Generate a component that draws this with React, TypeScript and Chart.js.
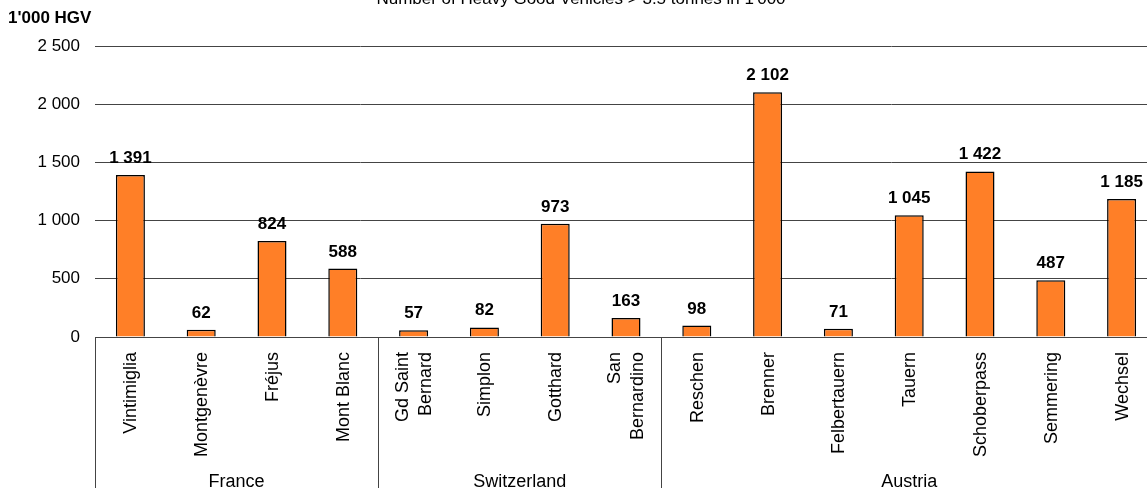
import React, { useEffect, useRef } from 'react';
import { Chart, registerables } from 'chart.js';

Chart.register(...registerables);

const chartTitle = "Number of Heavy Good Vehicles > 3.5 tonnes in 1'000";
const axisTitle = "1'000 HGV";
const passLabels: string[][] = [
  ['Vintimiglia'], ['Montgenèvre'], ['Fréjus'], ['Mont Blanc'],
  ['Gd Saint', 'Bernard'], ['Simplon'], ['Gotthard'], ['San', 'Bernardino'],
  ['Reschen'], ['Brenner'], ['Felbertauern'], ['Tauern'], ['Schoberpass'], ['Semmering'], ['Wechsel'],
];
const hgvValues = [1391, 62, 824, 588, 57, 82, 973, 163, 98, 2102, 71, 1045, 1422, 487, 1185];
const groupNames = ['France', 'Switzerland', 'Austria'];
const groupSizes = [4, 4, 7];
const yTicks = [0, 500, 1000, 1500, 2000, 2500];

const FONT = '"Liberation Sans", Arial, sans-serif';
const fmt = (n: number) => String(n).replace(/\B(?=(\d{3})+(?!\d))/g, ' ');

const decorPlugin = {
  id: 'decor',
  afterDraw(chart: any) {
    const { ctx, chartArea, scales } = chart;
    const xs = scales.x;
    ctx.save();
    // title
    ctx.fillStyle = '#000';
    ctx.font = `17px ${FONT}`;
    ctx.textAlign = 'center';
    ctx.textBaseline = 'alphabetic';
    ctx.fillText(chartTitle, chart.width / 2, 15.5);
    // axis title
    ctx.font = `bold 17px ${FONT}`;
    ctx.textAlign = 'left';
    ctx.fillText(axisTitle, 8, 35);
    // data labels
    const meta = chart.getDatasetMeta(0);
    ctx.textAlign = 'center';
    meta.data.forEach((bar: any, i: number) => {
      ctx.fillText(fmt(hgvValues[i]), bar.x, bar.y - 12);
    });
    // category labels
    ctx.font = `18px ${FONT}`;
    passLabels.forEach((lines, i) => {
      const x = xs.getPixelForValue(i);
      ctx.save();
      ctx.translate(x, chartArea.bottom + 15);
      ctx.rotate(-Math.PI / 2);
      ctx.textAlign = 'right';
      ctx.textBaseline = 'middle';
      lines.forEach((ln, j) => {
        ctx.fillText(ln, 0, (j - (lines.length - 1) / 2) * 23 + 1);
      });
      ctx.restore();
    });
    // group separators and labels
    const half = (xs.getPixelForValue(1) - xs.getPixelForValue(0)) / 2;
    ctx.strokeStyle = '#444';
    ctx.lineWidth = 1;
    let start = 0;
    const bounds: number[] = [chartArea.left];
    groupSizes.forEach((sz, g) => {
      const end = start + sz - 1;
      const left = xs.getPixelForValue(start) - half;
      const right = xs.getPixelForValue(end) + half;
      bounds.push(right);
      ctx.textAlign = 'center';
      ctx.textBaseline = 'alphabetic';
      ctx.fillText(groupNames[g], (left + right) / 2, 499);
      start += sz;
    });
    bounds.forEach((b) => {
      const px = Math.round(b) + 0.5;
      ctx.beginPath();
      ctx.moveTo(px, chartArea.bottom);
      ctx.lineTo(px, chart.height);
      ctx.stroke();
    });
    ctx.restore();
  },
};

export default function App() {
  const ref = useRef<HTMLCanvasElement | null>(null);
  useEffect(() => {
    document.body.style.margin = '0';
    document.body.style.overflow = 'hidden';
    const canvas = ref.current!;
    const chart = new Chart(canvas, {
      type: 'bar',
      data: {
        labels: passLabels.map((l) => l.join(' ')),
        datasets: [
          {
            data: hgvValues,
            backgroundColor: '#FF7F27',
            borderColor: '#000',
            borderWidth: 1.5,
            barPercentage: 0.41,
            categoryPercentage: 1,
          },
        ],
      },
      options: {
        animation: false,
        responsive: false,
        devicePixelRatio: 1,
        layout: { padding: { top: 58, left: 0, right: 5, bottom: 0 } },
        plugins: { legend: { display: false }, title: { display: false }, tooltip: { enabled: false } },
        scales: {
          x: {
            grid: { display: false },
            border: { display: true, color: '#444', width: 1 },
            ticks: { display: false },
            afterFit: (s: any) => { s.height = 163; },
          },
          y: {
            min: 0,
            max: 2500,
            afterBuildTicks: (s: any) => { s.ticks = yTicks.map((v) => ({ value: v })); },
            grid: { color: '#444', drawTicks: false, lineWidth: 1 },
            border: { display: false },
            ticks: {
              padding: 15,
              color: '#000',
              font: { family: FONT, size: 17 },
              callback: (v: any) => fmt(Number(v)),
            },
            afterFit: (s: any) => { s.width = 95; },
          },
        },
      },
      plugins: [decorPlugin],
    });
    return () => chart.destroy();
  }, []);
  return (
    <div style={{ position: 'fixed', left: 0, top: -12, width: 1162, height: 512 }}>
      <canvas ref={ref} width={1162} height={512} style={{ width: 1162, height: 512 }} />
    </div>
  );
}
